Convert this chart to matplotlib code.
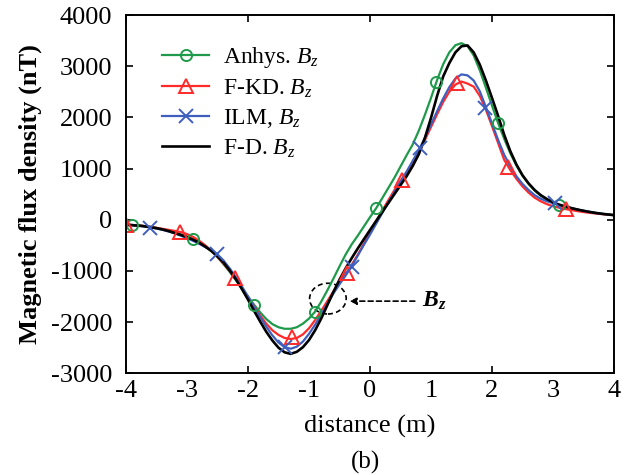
import matplotlib
matplotlib.use("Agg")
import matplotlib.pyplot as plt
from matplotlib.patches import Ellipse

plt.rcParams['font.family'] = ['Liberation Serif', 'DejaVu Serif']
plt.rcParams['mathtext.fontset'] = 'custom'
plt.rcParams['mathtext.rm'] = 'Liberation Serif'
plt.rcParams['mathtext.it'] = 'Liberation Serif:italic'
plt.rcParams['mathtext.bf'] = 'Liberation Serif:bold'
plt.rcParams['mathtext.bfit'] = 'Liberation Serif:bold:italic'

# distance grid (m), -4 .. 4 in 0.1 m steps
distance = [round(-4 + 0.1 * i, 1) for i in range(81)]

anhys_bz = [-95, -102, -110, -123, -140, -160, -185, -215, -250, -290,
            -330, -380, -440, -520, -615, -730, -870, -1020, -1180, -1340,
            -1500, -1660, -1810, -1940, -2040, -2100, -2130, -2130, -2100, -2030,
            -1930, -1795, -1600, -1380, -1150, -910, -680, -480, -310, -130,
            50, 224, 420, 620, 820, 1040, 1260, 1470, 1740, 2050,
            2380, 2730, 3040, 3270, 3410, 3450, 3390, 3210, 2920, 2580,
            2230, 1890, 1580, 1300, 1060, 860, 700, 570, 470, 395,
            335, 290, 252, 222, 196, 172, 150, 132, 115, 102, 90]

fkd_bz = [-95, -102, -110, -123, -140, -158, -178, -198, -218, -242,
          -280, -335, -410, -500, -605, -725, -860, -1000, -1155, -1330,
          -1510, -1690, -1870, -2030, -2160, -2250, -2310, -2330, -2310, -2240,
          -2120, -1960, -1780, -1590, -1400, -1220, -1060, -880, -680, -470,
          -250, -30, 180, 380, 580, 760, 930, 1110, 1320, 1560,
          1810, 2060, 2300, 2500, 2640, 2700, 2660, 2600, 2420, 2150,
          1830, 1500, 1170, 970, 800, 650, 530, 430, 360, 305,
          265, 235, 210, 188, 168, 150, 135, 122, 110, 100, 90]

ilm_bz = [-95, -104, -115, -130, -150, -172, -198, -230, -268, -312,
          -360, -412, -470, -535, -600, -680, -800, -950, -1120, -1305,
          -1500, -1700, -1900, -2090, -2260, -2400, -2490, -2520, -2480, -2380,
          -2230, -2050, -1850, -1640, -1440, -1260, -1090, -910, -700, -490,
          -290, -80, 130, 340, 540, 740, 940, 1150, 1360, 1600,
          1860, 2120, 2370, 2590, 2760, 2840, 2820, 2720, 2510, 2200,
          1880, 1560, 1270, 1040, 850, 700, 580, 480, 410, 360,
          325, 290, 258, 228, 200, 175, 153, 133, 116, 102, 90]

fd_bz = [-100, -107, -115, -128, -145, -165, -190, -222, -260, -297,
         -340, -390, -450, -525, -610, -715, -840, -990, -1160, -1355,
         -1560, -1780, -1990, -2190, -2360, -2500, -2590, -2620, -2580, -2490,
         -2350, -2160, -1930, -1670, -1410, -1170, -950, -750, -560, -380,
         -200, -25, 150, 325, 500, 675, 850, 1050, 1280, 1600,
         1990, 2420, 2800, 3060, 3270, 3390, 3405, 3270, 3030, 2720,
         2380, 2030, 1660, 1340, 1080, 870, 710, 580, 480, 405,
         340, 295, 260, 228, 200, 175, 153, 133, 117, 103, 90]

# marker samples
anhys_mx = [-3.91, -2.91, -1.9, -0.9, 0.1, 1.09, 2.1, 3.1]
anhys_my = [-102, -375, -1664, -1795, 224, 2697, 1885, 289]
fkd_mx = [-4.0, -3.11, -2.21, -1.28, -0.38, 0.52, 1.43, 2.27, 3.22]
fkd_my = [-95, -238, -1137, -2295, -1045, 777, 2666, 1037, 205]
ilm_mx = [-3.61, -2.51, -1.39, -0.3, 0.82, 1.89, 3.03]
ilm_my = [-154, -668, -2490, -916, 1396, 2178, 334]

labels = ['Anhys. $B_z$', 'F-KD. $B_z$', 'ILM, $B_z$', 'F-D. $B_z$']
colors = ['#1f9a4b', '#ff2a2a', '#3f5fbf', '#000000']

x_major = [-4, -2, 0, 2, 4]
x_minor = [-3, -1, 1, 3]
y_ticks = [-3000, -2000, -1000, 0, 1000, 2000, 3000, 4000]

fig = plt.figure(figsize=(6.32, 4.75), dpi=100)
ax = fig.add_axes([0.1994, 0.2141, 0.7721, 0.7543])

lw = 1.6
ax.plot(distance, anhys_bz, color=colors[0], lw=lw)
ax.plot(distance, fkd_bz, color=colors[1], lw=lw)
ax.plot(distance, ilm_bz, color=colors[2], lw=lw)
ax.plot(distance, fd_bz, color=colors[3], lw=lw + 0.3)

ax.plot(anhys_mx, anhys_my, ls='none', marker='o', ms=8, mfc='none',
        mec=colors[0], mew=1.4)
ax.plot(fkd_mx, fkd_my, ls='none', marker='^', ms=10, mfc='none',
        mec=colors[1], mew=1.4)
ax.plot(ilm_mx, ilm_my, ls='none', marker='x', ms=10, mec=colors[2], mew=1.4)

# legend handles
h0, = ax.plot([], [], color=colors[0], lw=lw, marker='o', ms=8, mfc='none', mew=1.4)
h1, = ax.plot([], [], color=colors[1], lw=lw, marker='^', ms=10, mfc='none', mew=1.4)
h2, = ax.plot([], [], color=colors[2], lw=lw, marker='x', ms=10, mew=1.4)
h3, = ax.plot([], [], color=colors[3], lw=lw + 0.3)
ax.legend([h0, h1, h2, h3], labels, loc='upper left', bbox_to_anchor=(0.03, 0.975),
          frameon=False, fontsize=17, handlelength=2.0, labelspacing=0.31,
          handletextpad=0.6)

ax.set_xlim(-4, 4)
ax.set_ylim(-3000, 4000)
ax.set_xticks(x_major)
ax.set_xticks(x_minor, minor=True)
ax.set_xticklabels([str(v) for v in x_major])
ax.set_xticklabels([str(v) for v in x_minor], minor=True)
ax.set_yticks(y_ticks)
ax.set_yticklabels([str(v) for v in y_ticks])
ax.tick_params(which='major', direction='in', length=5, width=1.2,
               top=True, right=True, labelsize=19)
ax.tick_params(axis='x', which='both', pad=5)
ax.tick_params(axis='x', which='minor', direction='in', length=0, labelsize=19)
ax.tick_params(axis='y', which='major', pad=10)
ax.tick_params(axis='y', which='minor', left=False, right=False)
for s in ax.spines.values():
    s.set_linewidth(1.4)

ax.set_xlabel('distance (m)', fontsize=19, labelpad=9)
ax.set_ylabel('Magnetic flux density (nT)', fontsize=19, fontweight='bold',
              labelpad=6)

# annotation: dashed ellipse and arrow
ax.add_patch(Ellipse((-0.69, -1541), 0.6, 600, fill=False, ls=(0, (3, 2)),
                     lw=1.2, color='black'))
ax.annotate('', xy=(-0.38, -1590), xytext=(0.78, -1590),
            arrowprops=dict(arrowstyle='-|>', ls=(0, (3, 2)), lw=1.2,
                            color='black', mutation_scale=10))
ax.text(0.86, -1590, r'$\mathbfit{B}_{\mathbfit{z}}$', fontsize=17,
        va='center', ha='left')

fig.text(0.579, 0.027, '(b)', fontsize=18, ha='center', va='center')

fig.savefig('out.png', dpi=100)
